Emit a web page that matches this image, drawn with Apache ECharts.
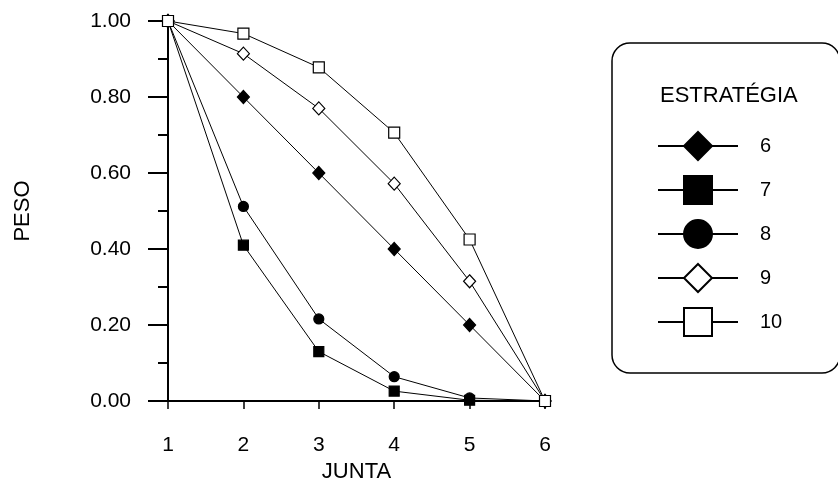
<!DOCTYPE html>
<html>
<head>
<meta charset="utf-8">
<script src="https://cdn.jsdelivr.net/npm/echarts@6/dist/echarts.min.js"></script>
<style>
  html, body { margin: 0; padding: 0; background: #fff; }
  #chart { width: 838px; height: 479px; }
</style>
</head>
<body>
<div id="chart"></div>
<script>
// Joint index along the chain
const juntas = [1, 2, 3, 4, 5, 6];

// Weight per joint for each strategy
const estrategia6  = [1.00, 0.80, 0.60, 0.40, 0.20, 0.00];
const estrategia7  = [1.00, 0.41, 0.13, 0.026, 0.002, 0.00];
const estrategia8  = [1.00, 0.512, 0.216, 0.064, 0.008, 0.00];
const estrategia9  = [1.00, 0.914, 0.770, 0.572, 0.315, 0.00];
const estrategia10 = [1.00, 0.967, 0.878, 0.706, 0.425, 0.00];

const nomes = ['6', '7', '8', '9', '10'];
const valores = [estrategia6, estrategia7, estrategia8, estrategia9, estrategia10];

const FONT = '"Liberation Sans", Arial, Helvetica, sans-serif';

// Marker look per strategy: filled diamond, filled square, filled circle,
// open diamond, open square
const marcadores = [
  { symbol: 'diamond', size: [12, 13], fill: '#000' },
  { symbol: 'rect',    size: 10,       fill: '#000' },
  { symbol: 'circle',  size: 10,       fill: '#000' },
  { symbol: 'diamond', size: [12, 13], fill: '#fff' },
  { symbol: 'rect',    size: 11,       fill: '#fff' }
];

const series = nomes.map((nome, i) => ({
  name: nome,
  type: 'line',
  data: juntas.map((j, k) => [j, valores[i][k]]),
  symbol: marcadores[i].symbol,
  symbolSize: marcadores[i].size,
  showAllSymbol: true,
  lineStyle: { color: '#000', width: 1 },
  itemStyle: { color: marcadores[i].fill, borderColor: '#000', borderWidth: 1.2 },
  emphasis: { disabled: true },
  z: 3 + i
}));

const chart = echarts.init(document.getElementById('chart'), null, { renderer: 'canvas' });

chart.setOption({
  animation: false,
  backgroundColor: '#fff',
  grid: { left: 168, right: 293, top: 21, bottom: 78, containLabel: false, outerBoundsMode: 'none' },
  title: {
    text: 'ESTRATÉGIA',
    left: 660,
    top: 85,
    padding: 0,
    textStyle: { fontFamily: FONT, fontSize: 22, fontWeight: 'normal', color: '#000' }
  },
  legend: {
    orient: 'vertical',
    left: 657,
    top: 131,
    padding: 0,
    itemWidth: 80,
    itemHeight: 35,
    itemGap: 14,
    selectedMode: false,
    data: nomes,
    textStyle: { fontFamily: FONT, fontSize: 20, color: '#000', padding: [0, 0, 0, 17] }
  },
  xAxis: {
    type: 'value',
    min: 1,
    max: 6,
    interval: 1,
    name: 'JUNTA',
    nameLocation: 'middle',
    nameGap: 55,
    nameTextStyle: { fontFamily: FONT, fontSize: 22, color: '#000' },
    axisLine: { show: true, onZero: false, lineStyle: { color: '#000', width: 2 } },
    axisTick: { show: true, inside: false, length: 8, lineStyle: { color: '#000', width: 1.5 } },
    axisLabel: { margin: 34, fontFamily: FONT, fontSize: 21, color: '#000' },
    splitLine: { show: false }
  },
  yAxis: {
    type: 'value',
    min: 0,
    max: 1,
    interval: 0.2,
    name: 'PESO',
    nameLocation: 'middle',
    nameRotate: 90,
    nameGap: 134,
    nameTextStyle: { fontFamily: FONT, fontSize: 22, color: '#000' },
    axisLine: { show: true, onZero: false, lineStyle: { color: '#000', width: 2 } },
    axisTick: { show: true, inside: false, length: 20, lineStyle: { color: '#000', width: 2 } },
    minorTick: { show: true, splitNumber: 2, length: 10, lineStyle: { color: '#000', width: 2 } },
    axisLabel: {
      margin: 37,
      fontFamily: FONT,
      fontSize: 21,
      color: '#000',
      formatter: v => v.toFixed(2)
    },
    splitLine: { show: false }
  },
  graphic: [
    {
      type: 'rect',
      shape: { x: 612, y: 43, width: 228, height: 330, r: 18 },
      style: { fill: 'none', stroke: '#000', lineWidth: 1.5 },
      z: 1
    }
  ],
  series: series
});
</script>
</body>
</html>
